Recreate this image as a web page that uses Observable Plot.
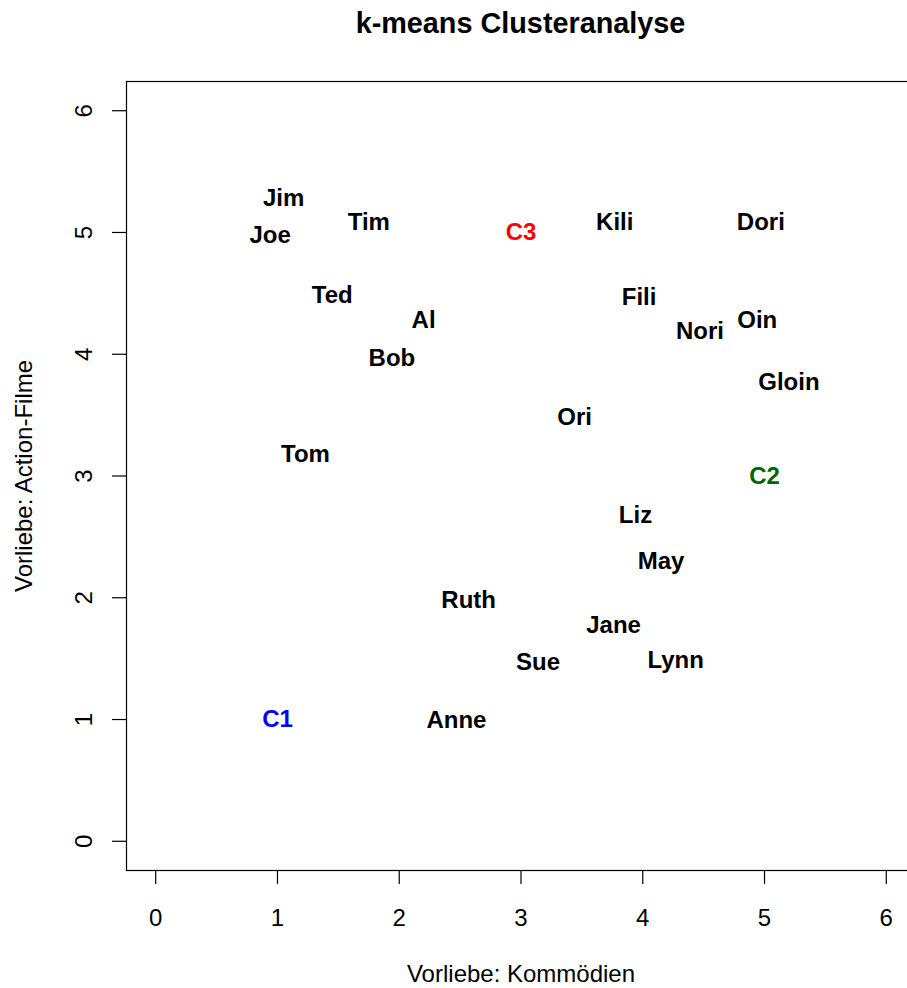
<!DOCTYPE html>
<html><head><meta charset="utf-8">
<script src="https://cdn.jsdelivr.net/npm/d3@7"></script>
<script src="https://cdn.jsdelivr.net/npm/@observablehq/plot@0.6"></script>
<style>
body{margin:0;background:#fff;font-family:"Liberation Sans",Arial,sans-serif;}
#wrap{width:907px;height:988px;overflow:hidden;position:relative;background:#fff;}
#title{position:absolute;left:520.5px;top:9px;transform:translateX(-50%);font-weight:bold;font-size:28.8px;line-height:1;white-space:nowrap;color:#000;}
#chart{position:absolute;left:0;top:48px;width:907px;overflow:hidden;}
</style></head><body>
<div id="wrap"><div id="title">k-means Clusteranalyse</div><div id="chart"></div></div>
<script>
// Data
const names     = ["Jim","Joe","Tim","Kili","Dori","Ted","Al","Fili","Nori","Oin","Bob","Gloin","Ori","Tom","Liz","May","Ruth","Jane","Sue","Lynn","Anne"];
const kommodien = [1.05, 0.94, 1.75, 3.77, 4.97, 1.45, 2.20, 3.97, 4.47, 4.94, 1.94, 5.20, 3.44, 1.23, 3.94, 4.15, 2.57, 3.76, 3.14, 4.27, 2.47];
const action    = [5.28, 4.98, 5.08, 5.08, 5.08, 4.48, 4.28, 4.47, 4.19, 4.28, 3.97, 3.77, 3.48, 3.18, 2.68, 2.30, 1.98, 1.77, 1.47, 1.49, 0.99];

const centerNames  = ["C1", "C2", "C3"];
const centerX      = [1, 5, 3];
const centerY      = [1, 3, 5];
const centerColors = ["#0000ff", "#006400", "#ff0000"];

const xTicks = [0, 1, 2, 3, 4, 5, 6];
const yTicks = [0, 1, 2, 3, 4, 5, 6];

const titleText = "k-means Clusteranalyse";
const xLabel = "Vorliebe: Kommödien";
const yLabel = "Vorliebe: Action-Filme";

document.getElementById("title").textContent = titleText;

const people = names.map((n, i) => ({name: n, x: kommodien[i], y: action[i]}));
const centers = centerNames.map((n, i) => ({name: n, x: centerX[i], y: centerY[i], color: centerColors[i]}));

const font = "'Liberation Sans', Arial, sans-serif";

const chart = Plot.plot({
  width: 907,
  height: 940,
  marginLeft: 126,
  marginRight: -8,
  marginTop: 33,
  marginBottom: 118,
  style: {fontFamily: font, background: "#fff", color: "#000", overflow: "hidden"},
  x: {domain: [-0.24, 6.24]},
  y: {domain: [-0.24, 6.24]},
  marks: [
    Plot.frame({stroke: "#000", strokeWidth: 1.2}),
    Plot.axisX({ticks: xTicks, tickFormat: d => String(d), tickSize: 14, tickPadding: 24, fontSize: 24, label: null, stroke: "#000", strokeWidth: 1.2, fill: "#000"}),
    Plot.axisY({ticks: yTicks, tickSize: 14, tickFormat: () => "", label: null, stroke: "#000", strokeWidth: 1.2}),
    Plot.text(yTicks, {y: d => d, text: d => String(d), frameAnchor: "left", textAnchor: "middle", lineAnchor: "middle", rotate: -90, dx: -42, fontSize: 24, fill: "#000"}),
    Plot.text([xLabel], {text: d => d, frameAnchor: "bottom", textAnchor: "middle", lineAnchor: "middle", dy: 104, fontSize: 24, fill: "#000"}),
    Plot.text([yLabel], {text: d => d, frameAnchor: "left", textAnchor: "middle", lineAnchor: "middle", rotate: -90, dx: -102, fontSize: 24, fill: "#000"}),
    Plot.text(people, {x: "x", y: "y", text: "name", fontSize: 24, fontWeight: "bold", fill: "#000"}),
    ...centers.map(c => Plot.text([c], {x: "x", y: "y", text: "name", fontSize: 24, fontWeight: "bold", fill: c.color}))
  ]
});
document.getElementById("chart").appendChild(chart);
</script>
</body></html>
